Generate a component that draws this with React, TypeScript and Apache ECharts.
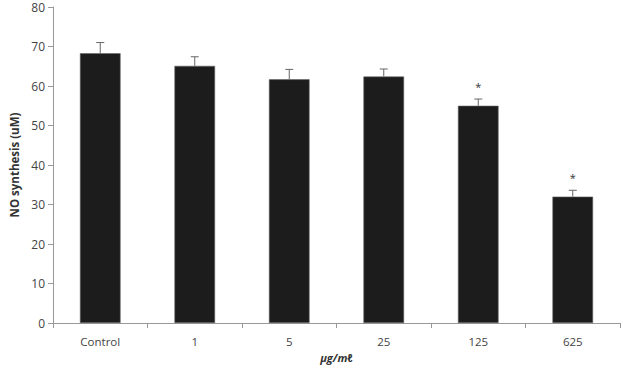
import React, { useEffect, useRef } from "react";
import * as echarts from "echarts";

const categories = ["Control", "1", "5", "25", "125", "625"];
const values = [68.3, 65.1, 61.7, 62.4, 55.0, 32.0];
const errors = [2.7, 2.3, 2.5, 1.9, 1.7, 1.6];
const stars = ["", "", "", "", "*", "*"];
const yTicks = { min: 0, max: 80, interval: 10 };

export default function App() {
  const ref = useRef<HTMLDivElement>(null);
  useEffect(() => {
    if (!ref.current) return;
    const chart = echarts.init(ref.current, null, { renderer: "svg" });
    const font = "'Open Sans', 'DejaVu Sans', sans-serif";
    chart.setOption({
      animation: false,
      grid: { left: 48, right: 3, top: 7, bottom: 52 },
      xAxis: {
        type: "category",
        data: categories,
        name: "μg/mℓ",
        nameLocation: "middle",
        nameGap: 28,
        nameTextStyle: { fontFamily: font, fontSize: 11, fontWeight: "bold", fontStyle: "italic", color: "#333" },
        axisLine: { lineStyle: { color: "#999" } },
        axisTick: { show: true, alignWithLabel: false, length: 5, lineStyle: { color: "#999" } },
        axisLabel: { fontFamily: font, fontSize: 11.5, color: "#444", margin: 12 },
      },
      yAxis: {
        type: "value",
        min: yTicks.min,
        max: yTicks.max,
        interval: yTicks.interval,
        name: "NO synthesis (uM)",
        nameLocation: "middle",
        nameGap: 33,
        nameTextStyle: { fontFamily: font, fontSize: 11.5, fontWeight: "bold", color: "#333" },
        axisLine: { show: true, lineStyle: { color: "#999" } },
        axisTick: { show: true, length: 5, lineStyle: { color: "#999" } },
        splitLine: { show: false },
        axisLabel: { fontFamily: font, fontSize: 12, color: "#444", margin: 8 },
      },
      series: [
        {
          type: "bar",
          data: values,
          barWidth: "43%",
          itemStyle: { color: "#1c1c1c", borderColor: "#666", borderWidth: 0.6 },
        },
        {
          type: "custom",
          data: values.map((v, i) => [i, v, v + errors[i]]),
          z: 5,
          renderItem: (params: any, api: any) => {
            const i = api.value(0);
            const lo = api.coord([i, api.value(1)]);
            const hi = api.coord([i, api.value(2)]);
            const star = stars[params.dataIndex];
            const children: any[] = [
              { type: "line", shape: { x1: lo[0], y1: lo[1], x2: hi[0], y2: hi[1] }, style: { stroke: "#666", lineWidth: 1 } },
              { type: "line", shape: { x1: hi[0] - 4, y1: hi[1], x2: hi[0] + 4, y2: hi[1] }, style: { stroke: "#666", lineWidth: 1 } },
            ];
            if (star) {
              children.push({
                type: "text",
                style: { text: star, x: hi[0], y: hi[1] - 13, align: "center", verticalAlign: "middle", fontSize: 11, fontFamily: font, fill: "#333" },
              });
            }
            return { type: "group", children };
          },
        },
      ],
    });
    return () => chart.dispose();
  }, []);
  return <div ref={ref} style={{ position: "absolute", left: 0, top: 0, width: 623, height: 375 }} />;
}
